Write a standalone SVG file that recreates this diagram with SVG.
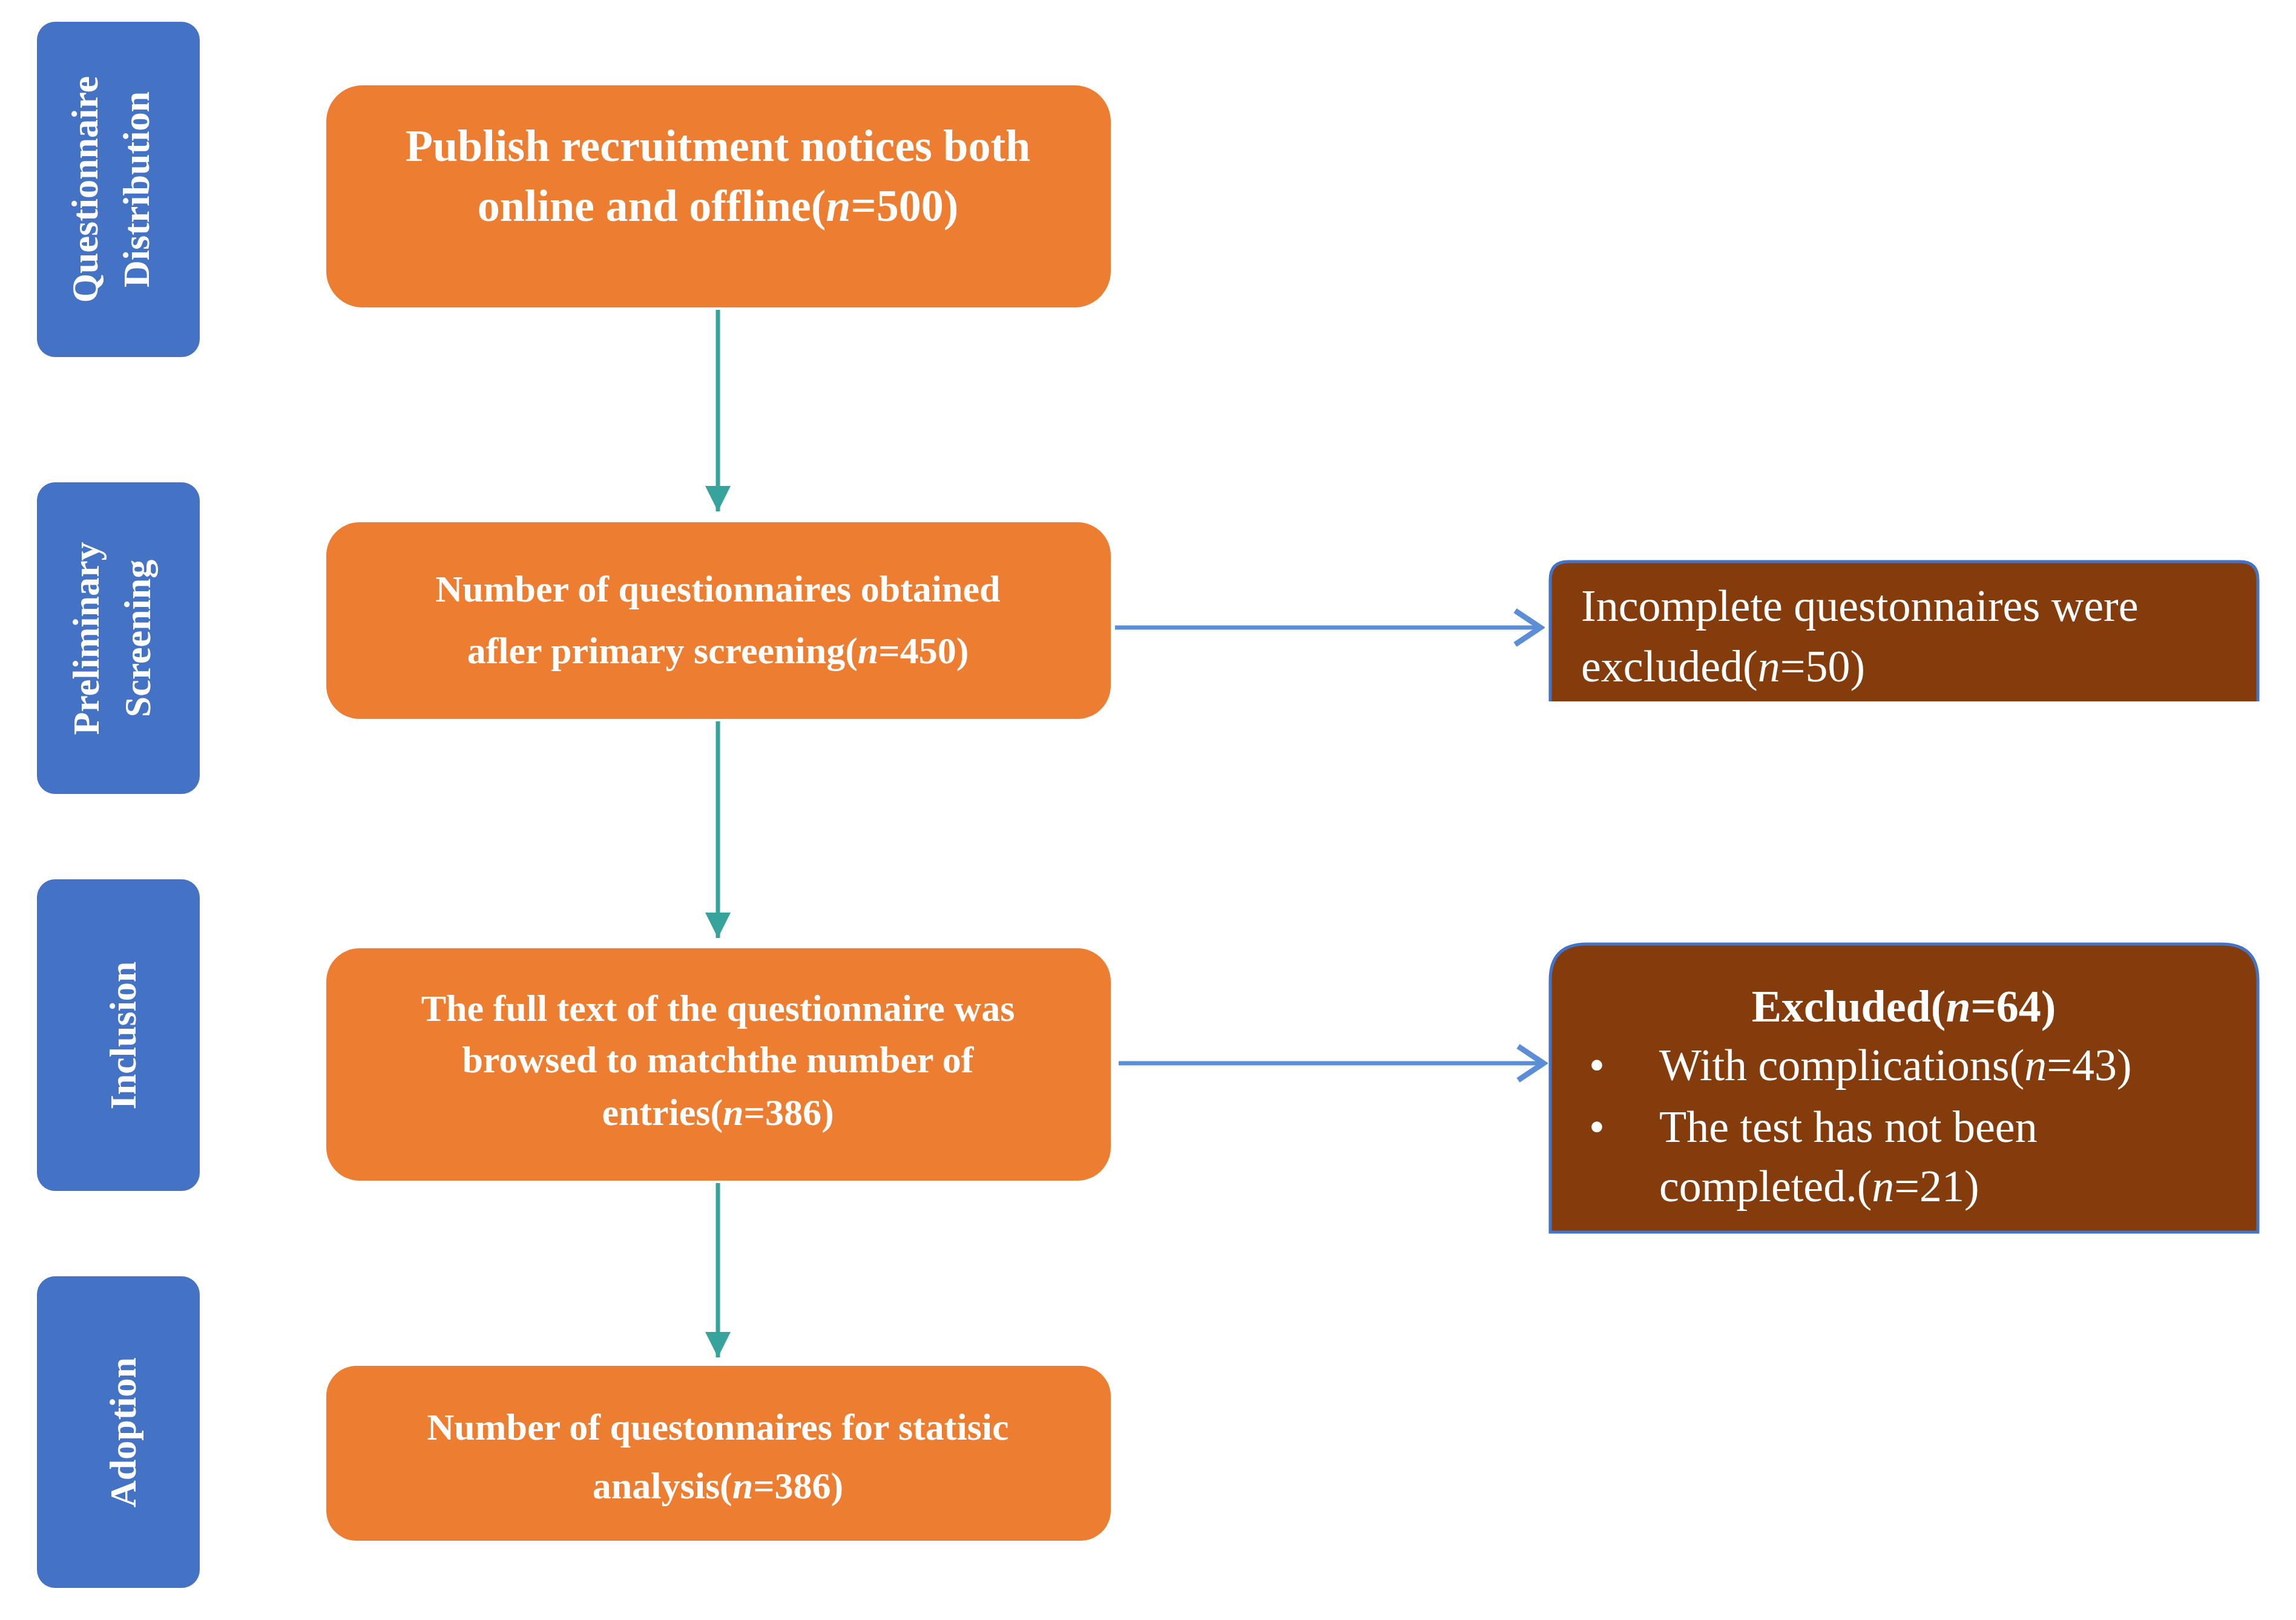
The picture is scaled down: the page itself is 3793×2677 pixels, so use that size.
<svg xmlns="http://www.w3.org/2000/svg" width="3793" height="2677" viewBox="0 0 3793 2677">
<style>
.stage{fill:#4472C4}
.stxt{font-family:"Liberation Serif",serif;font-weight:bold;font-size:62px;fill:#fff;text-anchor:middle}
.ob{fill:#ED7D31}
.otxt{font-family:"Liberation Serif",serif;font-weight:bold;font-size:62px;fill:#fff;text-anchor:middle}
.br{fill:#843C0C;stroke:#4472C4;stroke-width:5}
.btxt{font-family:"Liberation Serif",serif;font-size:74px;fill:#fff}
.va{stroke:#36A39C;stroke-width:7;fill:none}
.ha{stroke:#5B8ED6;stroke-width:7;fill:none}
</style>
<defs>
<marker id="av" markerWidth="8" markerHeight="8" refX="6" refY="4" orient="auto" markerUnits="strokeWidth"><path d="M0,1 L6,4 L0,7 Z" fill="#36A39C"/></marker>
<marker id="ah" markerWidth="8" markerHeight="10" refX="7" refY="5" orient="auto" markerUnits="strokeWidth"><path d="M1,1 L7,5 L1,9" fill="none" stroke="#5B8ED6" stroke-width="1.3"/></marker>
</defs>
<rect width="3793" height="2677" fill="#fff"/>
<g id="stage1"><rect class="stage" x="61" y="36" width="269" height="554" rx="30"/>
<text class="stxt" transform="translate(161,313) rotate(-90)">Questionnaire</text>
<text class="stxt" transform="translate(246,313) rotate(-90)">Distribution</text></g>
<g id="stage2"><rect class="stage" x="61" y="797" width="269" height="515" rx="30"/>
<text class="stxt" transform="translate(163,1055) rotate(-90)">Preliminary</text>
<text class="stxt" transform="translate(248,1055) rotate(-90)">Screening</text></g>
<g id="stage3"><rect class="stage" x="61" y="1453" width="269" height="515" rx="30"/>
<text class="stxt" transform="translate(224,1711) rotate(-90)">Inclusion</text></g>
<g id="stage4"><rect class="stage" x="61" y="2109" width="269" height="515" rx="30"/>
<text class="stxt" transform="translate(224,2367) rotate(-90)">Adoption</text></g>

<g id="box1"><rect class="ob" x="539" y="141" width="1296" height="367" rx="60"/>
<text class="otxt" style="font-size:74px" x="1186" y="266">Publish recruitment notices both</text>
<text class="otxt" style="font-size:74px" x="1186" y="365">online and offline(<tspan font-style="italic">n</tspan>=500)</text></g>
<g id="box2"><rect class="ob" x="539" y="863" width="1296" height="325" rx="55"/>
<text class="otxt" x="1186" y="994">Number of questionnaires obtained</text>
<text class="otxt" x="1186" y="1096">afler primary screening(<tspan font-style="italic">n</tspan>=450)</text></g>
<g id="box3"><rect class="ob" x="539" y="1567" width="1296" height="384" rx="55"/>
<text class="otxt" x="1186" y="1687">The full text of the questionnaire was</text>
<text class="otxt" x="1186" y="1772">browsed to matchthe number of</text>
<text class="otxt" x="1186" y="1859">entries(<tspan font-style="italic">n</tspan>=386)</text></g>
<g id="box4"><rect class="ob" x="539" y="2257" width="1296" height="289" rx="50"/>
<text class="otxt" x="1186" y="2379">Number of questonnaires for statisic</text>
<text class="otxt" x="1186" y="2476">analysis(<tspan font-style="italic">n</tspan>=386)</text></g>

<g id="ex1"><path class="br" d="M2561,1159 L2561,958 Q2561,928 2591,928 L3700,928 Q3730,928 3730,958 L3730,1159"/>
<text class="btxt" x="2612" y="1026">Incomplete questonnaires were</text>
<text class="btxt" x="2612" y="1126">excluded(<tspan font-style="italic">n</tspan>=50)</text></g>
<g id="ex2"><path class="br" d="M2561,2036 L2561,1620 Q2561,1560 2621,1560 L3670,1560 Q3730,1560 3730,1620 L3730,2036 Z"/>
<text class="btxt" x="3145" y="1688" text-anchor="middle" font-weight="bold">Excluded(<tspan font-style="italic">n</tspan>=64)</text>
<text class="btxt" x="2625" y="1785">•</text>
<text class="btxt" x="2741" y="1785">With complications(<tspan font-style="italic">n</tspan>=43)</text>
<text class="btxt" x="2625" y="1887">•</text>
<text class="btxt" x="2741" y="1887">The test has not been</text>
<text class="btxt" x="2741" y="1985">completed.(<tspan font-style="italic">n</tspan>=21)</text></g>

<g id="connectors">
<line class="va" x1="1186" y1="512" x2="1186" y2="845" marker-end="url(#av)"/>
<line class="va" x1="1186" y1="1192" x2="1186" y2="1550" marker-end="url(#av)"/>
<line class="va" x1="1186" y1="1955" x2="1186" y2="2243" marker-end="url(#av)"/>
<line class="ha" x1="1842" y1="1037" x2="2545" y2="1037" marker-end="url(#ah)"/>
<line class="ha" x1="1848" y1="1757" x2="2550" y2="1757" marker-end="url(#ah)"/>
</g>
</svg>
